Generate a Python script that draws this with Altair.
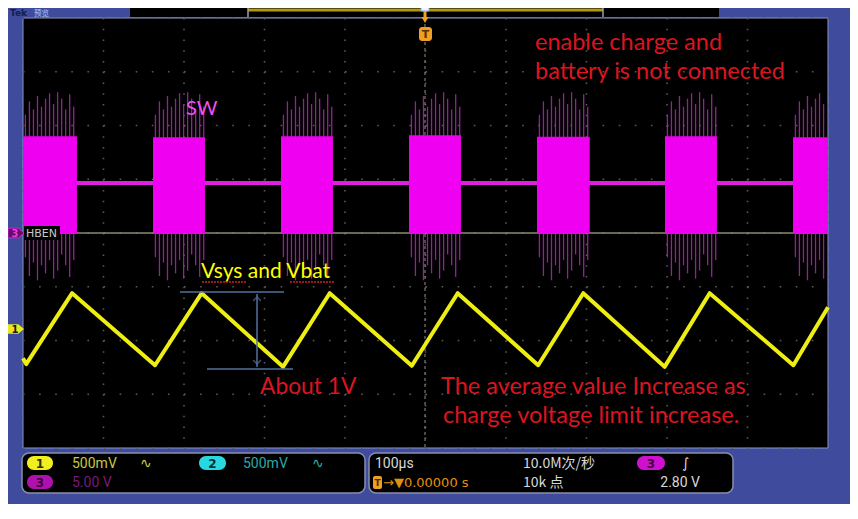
import altair as alt
import pandas as pd

# ---------------- data ----------------
# time axis: microseconds (100 us/div, 10 div); vertical: screen divisions (-4..+4)
ch1_t = [0, 4, 61, 164, 222, 323, 381, 483, 540, 640, 696, 797, 853, 957, 1000]
ch1_div = [-2.33, -2.44, -1.12, -2.46, -1.12, -2.49, -1.12, -2.47, -1.12,
           -2.46, -1.12, -2.49, -1.12, -2.46, -1.38]

burst_start = [0, 161.5, 320.5, 479.5, 638.5, 797.5, 956.5]
burst_end = [67, 226, 385, 544, 704, 862, 1000]
burst_top = [1.80, 1.78, 1.80, 1.82, 1.79, 1.80, 1.78]
burst_bottom = [0.0, 0.0, 0.0, 0.0, 0.0, 0.0, 0.0]
sw_idle_level = 0.93
spike_offset = [3, 8, 13, 18, 23, 28, 33, 38, 43, 48, 53, 58, 63]
spike_up = [2.2, 2.45, 2.3, 2.55, 2.35, 2.5, 2.6, 2.4, 2.62, 2.5, 2.3, 2.58, 2.35]
spike_down = [-0.45, -0.8, -0.55, -0.88, -0.6, -0.75, -0.5, -0.85, -0.7, -0.4, -0.6, -0.82, -0.5]

grid_t = [0, 100, 200, 300, 400, 500, 600, 700, 800, 900, 1000]
grid_div = [-4, -3, -2, -1, 0, 1, 2, 3, 4]

# ---------------- layout helpers ----------------
W, H = 842, 496
OX, OY = 8, 8


def px(x):
    return x - OX


def py(y):
    return y - OY


one = pd.DataFrame({"a": [0]})
xs = alt.Scale(domain=[0, 1000], range=[px(23), px(828)], nice=False, zero=False)
ys = alt.Scale(domain=[-4, 4], range=[py(448), py(18)], nice=False, zero=False)

BLUE = "#3F4C9E"
RED = "#DC1420"


def rect(x1, y1, x2, y2, fill, stroke=None, sw=0, r=0, opacity=1):
    kw = dict(fill=fill, strokeWidth=sw, cornerRadius=r, opacity=opacity)
    if stroke:
        kw["stroke"] = stroke
    return alt.Chart(one).mark_rect(**kw).encode(
        x=alt.value(px(x1)), x2=alt.value(px(x2)),
        y=alt.value(py(y1)), y2=alt.value(py(y2)))


def text(s, x, y, color, size, font="Lato", weight="normal", align="left",
         baseline="alphabetic"):
    return alt.Chart(one).mark_text(
        text=s, color=color, fontSize=size, font=font, fontWeight=weight,
        align=align, baseline=baseline).encode(x=alt.value(px(x)), y=alt.value(py(y)))


def hline(x1, x2, y, color, w=1, dash=None):
    kw = dict(color=color, strokeWidth=w)
    if dash:
        kw["strokeDash"] = dash
    return alt.Chart(one).mark_rule(**kw).encode(
        x=alt.value(px(x1)), x2=alt.value(px(x2)), y=alt.value(py(y)))


def vline(x, y1, y2, color, w=1, dash=None):
    kw = dict(color=color, strokeWidth=w)
    if dash:
        kw["strokeDash"] = dash
    return alt.Chart(one).mark_rule(**kw).encode(
        x=alt.value(px(x)), y=alt.value(py(y1)), y2=alt.value(py(y2)))


def symbol(x, y, shape, size, fill, stroke=None, sw=0):
    kw = dict(shape=shape, size=size, fill=fill, filled=True, opacity=1, strokeWidth=sw)
    if stroke:
        kw["stroke"] = stroke
    return alt.Chart(one).mark_point(**kw).encode(x=alt.value(px(x)), y=alt.value(py(y)))


def pill(x1, x2, yc, fill, label, tcolor):
    return rect(x1, yc - 7, x2, yc + 7, fill, r=7) + text(
        label, (x1 + x2) / 2, yc + 1, tcolor, 12, font="DejaVu Sans",
        weight="bold", align="center", baseline="middle")


layers = []

# blue instrument frame and top bar
layers.append(rect(0, 0, 852, 511, BLUE))
layers.append(rect(130, 0, 719, 17, "#000000"))
layers.append(hline(248, 603, 10, "#B09A10", 3))
layers.append(vline(248, 8, 17, "#A0A0A0", 1.5))
layers.append(vline(603, 8, 17, "#A0A0A0", 1.5))

# screen
layers.append(rect(23, 18, 828, 448, "#000000", stroke="#8894C8", sw=1))

# top-left label (after the screen so nothing hides it)
layers.append(text("Tek", 10, 13, "#161C4A", 9, font="DejaVu Sans", weight="bold", baseline="middle"))
layers.append(text("预览", 34, 13.5, "#B8C4F0", 7.5, font="Noto Sans CJK SC", baseline="middle"))

# graticule
gv = pd.DataFrame({"t": grid_t})
layers.append(alt.Chart(gv).mark_rule(color="#5A5A5A", strokeWidth=1.6, strokeDash=[1.6, 9.15]).encode(
    x=alt.X("t:Q", scale=xs, axis=None), y=alt.value(py(18)), y2=alt.value(py(448))))
gh = pd.DataFrame({"d": grid_div})
layers.append(alt.Chart(gh).mark_rule(color="#5A5A5A", strokeWidth=1.6, strokeDash=[1.6, 14.5]).encode(
    y=alt.Y("d:Q", scale=ys, axis=None), x=alt.value(px(23)), x2=alt.value(px(828))))
layers.append(vline(425, 18, 448, "#7A7A6A", 1.2, dash=[3, 3]))
layers.append(hline(23, 828, 233, "#8A8A72", 1.5))

# SW (ch3) idle level
idle = pd.DataFrame({"t0": [0], "t1": [1000], "lvl": [sw_idle_level]})
layers.append(alt.Chart(idle).mark_rule(color="#E020E0", strokeWidth=4).encode(
    x=alt.X("t0:Q", scale=xs, axis=None), x2="t1:Q",
    y=alt.Y("lvl:Q", scale=ys, axis=None)))

# SW switching spikes
rows = []
for s, e in zip(burst_start, burst_end):
    for off, up, dn in zip(spike_offset, spike_up, spike_down):
        t = s + off
        if t < e - 1:
            rows.append({"t": t, "up": up, "dn": dn})
spikes = pd.DataFrame(rows)
layers.append(alt.Chart(spikes).mark_rule(color="#B424B4", strokeWidth=1.3, opacity=0.85).encode(
    x=alt.X("t:Q", scale=xs, axis=None),
    y=alt.Y("up:Q", scale=ys, axis=None), y2="dn:Q"))

# SW bursts
bursts = pd.DataFrame({"s": burst_start, "e": burst_end, "top": burst_top, "bot": burst_bottom})
layers.append(alt.Chart(bursts).mark_rect(color="#F000F0").encode(
    x=alt.X("s:Q", scale=xs, axis=None), x2="e:Q",
    y=alt.Y("top:Q", scale=ys, axis=None), y2="bot:Q"))

# ch1 trace (Vsys / Vbat)
c1 = pd.DataFrame({"t": ch1_t, "v": ch1_div})
layers.append(alt.Chart(c1).mark_line(color="#EEEE12", strokeWidth=4, strokeJoin="round").encode(
    x=alt.X("t:Q", scale=xs, axis=None), y=alt.Y("v:Q", scale=ys, axis=None)))

# HBEN label and channel markers
layers.append(rect(24, 226, 60, 240, "#000000"))
layers.append(text("HBEN", 26, 234, "#C8C8C8", 11, font="DejaVu Sans", baseline="middle"))
pent = "M-1,-0.6 L0.3,-0.6 L1,0 L0.3,0.6 L-1,0.6 Z"
layers.append(symbol(16, 233, pent, 256, "#6A0A6A", stroke="#D020D0", sw=1))
layers.append(text("3", 15, 234, "#E040E0", 10, font="DejaVu Sans", weight="bold",
                   align="center", baseline="middle"))
layers.append(symbol(16, 329, pent, 256, "#E8E820"))
layers.append(text("1", 15, 330, "#202000", 10, font="DejaVu Sans", weight="bold",
                   align="center", baseline="middle"))

# trigger marker at the top
layers.append(rect(421, 7, 429, 11, "#F4F6FF", stroke="#8FA8E0", sw=1))
layers.append(vline(425, 11, 18, "#F0A020", 3))
layers.append(symbol(425, 20, "triangle-down", 50, "#F0A020"))
layers.append(rect(419, 27, 432, 41, "#F0A020", r=3))
layers.append(text("T", 425.5, 35, "#5A3000", 11, font="DejaVu Sans", weight="bold",
                   align="center", baseline="middle"))

# annotations
layers.append(text("enable charge and", 535, 50, RED, 23.5))
layers.append(text("battery is not connected", 535, 79, RED, 23.5))
layers.append(text("SW", 186, 115, "#F050F0", 20))
layers.append(text("Vsys and Vbat", 201, 278, "#FFFF00", 21))
layers.append(hline(202, 247, 282, "#D02020", 1.5, dash=[2, 1]))
layers.append(hline(290, 335, 282, "#D02020", 1.5, dash=[2, 1]))
layers.append(text("About 1V", 260, 394, RED, 22.8))
layers.append(text("The average value Increase as", 441, 394, RED, 23.5))
layers.append(text("charge voltage limit increase.", 443, 423, RED, 23.5))

# dimension marker
DIM = "#52709E"
layers.append(hline(180, 284, 292, DIM, 1.5))
layers.append(hline(207, 293, 369, DIM, 1.5))
layers.append(vline(257, 294, 367, DIM, 1.5))
layers.append(alt.Chart(one).mark_point(shape="M-1,1 L0,0 L1,1", size=60, color=DIM, strokeWidth=1.5,
                                        filled=False).encode(x=alt.value(px(257)), y=alt.value(py(297))))
layers.append(alt.Chart(one).mark_point(shape="M-1,-1 L0,0 L1,-1", size=60, color=DIM, strokeWidth=1.5,
                                        filled=False).encode(x=alt.value(px(257)), y=alt.value(py(364))))

# readout panels
layers.append(rect(22, 453, 365, 493, "#000000", stroke="#8A8EA8", sw=1.5, r=7))
layers.append(rect(369, 453, 733, 493, "#000000", stroke="#8A8EA8", sw=1.5, r=7))
layers.append(pill(27, 53, 463, "#F0F020", "1", "#303000"))
layers.append(text("500mV", 72, 464, "#C8C840", 14, font="Roboto", baseline="middle"))
layers.append(text("∿", 140, 464, "#C8C840", 14, font="DejaVu Sans", baseline="middle"))
layers.append(pill(199, 226, 463, "#28D8E0", "2", "#003038"))
layers.append(text("500mV", 243, 464, "#2AA8A8", 14, font="Roboto", baseline="middle"))
layers.append(text("∿", 312, 464, "#2AA8A8", 14, font="DejaVu Sans", baseline="middle"))
layers.append(pill(27, 53, 482, "#B010B0", "3", "#3A003A"))
layers.append(text("5.00 V", 72, 483, "#7A1A7A", 14, font="Roboto", baseline="middle"))

WH = "#D8D8D8"
layers.append(text("100µs", 375, 464, WH, 14, font="Roboto", baseline="middle"))
layers.append(rect(373, 476, 382, 489, "#F0A020", r=2))
layers.append(text("T", 377.5, 483, "#4A2800", 9, font="DejaVu Sans", weight="bold",
                   align="center", baseline="middle"))
layers.append(text("→▼0.00000 s", 383, 483, "#E09010", 13, font="DejaVu Sans", baseline="middle"))
layers.append(text("10.0M次/秒", 523, 464, WH, 14, font="Noto Sans CJK SC", baseline="middle"))
layers.append(text("10k 点", 523, 483, WH, 14, font="Noto Sans CJK SC", baseline="middle"))
layers.append(pill(637, 665, 463, "#D010D0", "3", "#3A003A"))
layers.append(text("∫", 682, 464, WH, 14, font="DejaVu Sans", baseline="middle"))
layers.append(text("2.80 V", 700, 483, WH, 14, font="Roboto", align="right", baseline="middle"))

chart = alt.layer(*layers).properties(
    width=W, height=H, padding=0, autosize=alt.AutoSizeParams(type="none"),
    background="white"
).configure_view(strokeWidth=0)

chart.save("out.html", embed_options={"renderer": "svg", "actions": False})
